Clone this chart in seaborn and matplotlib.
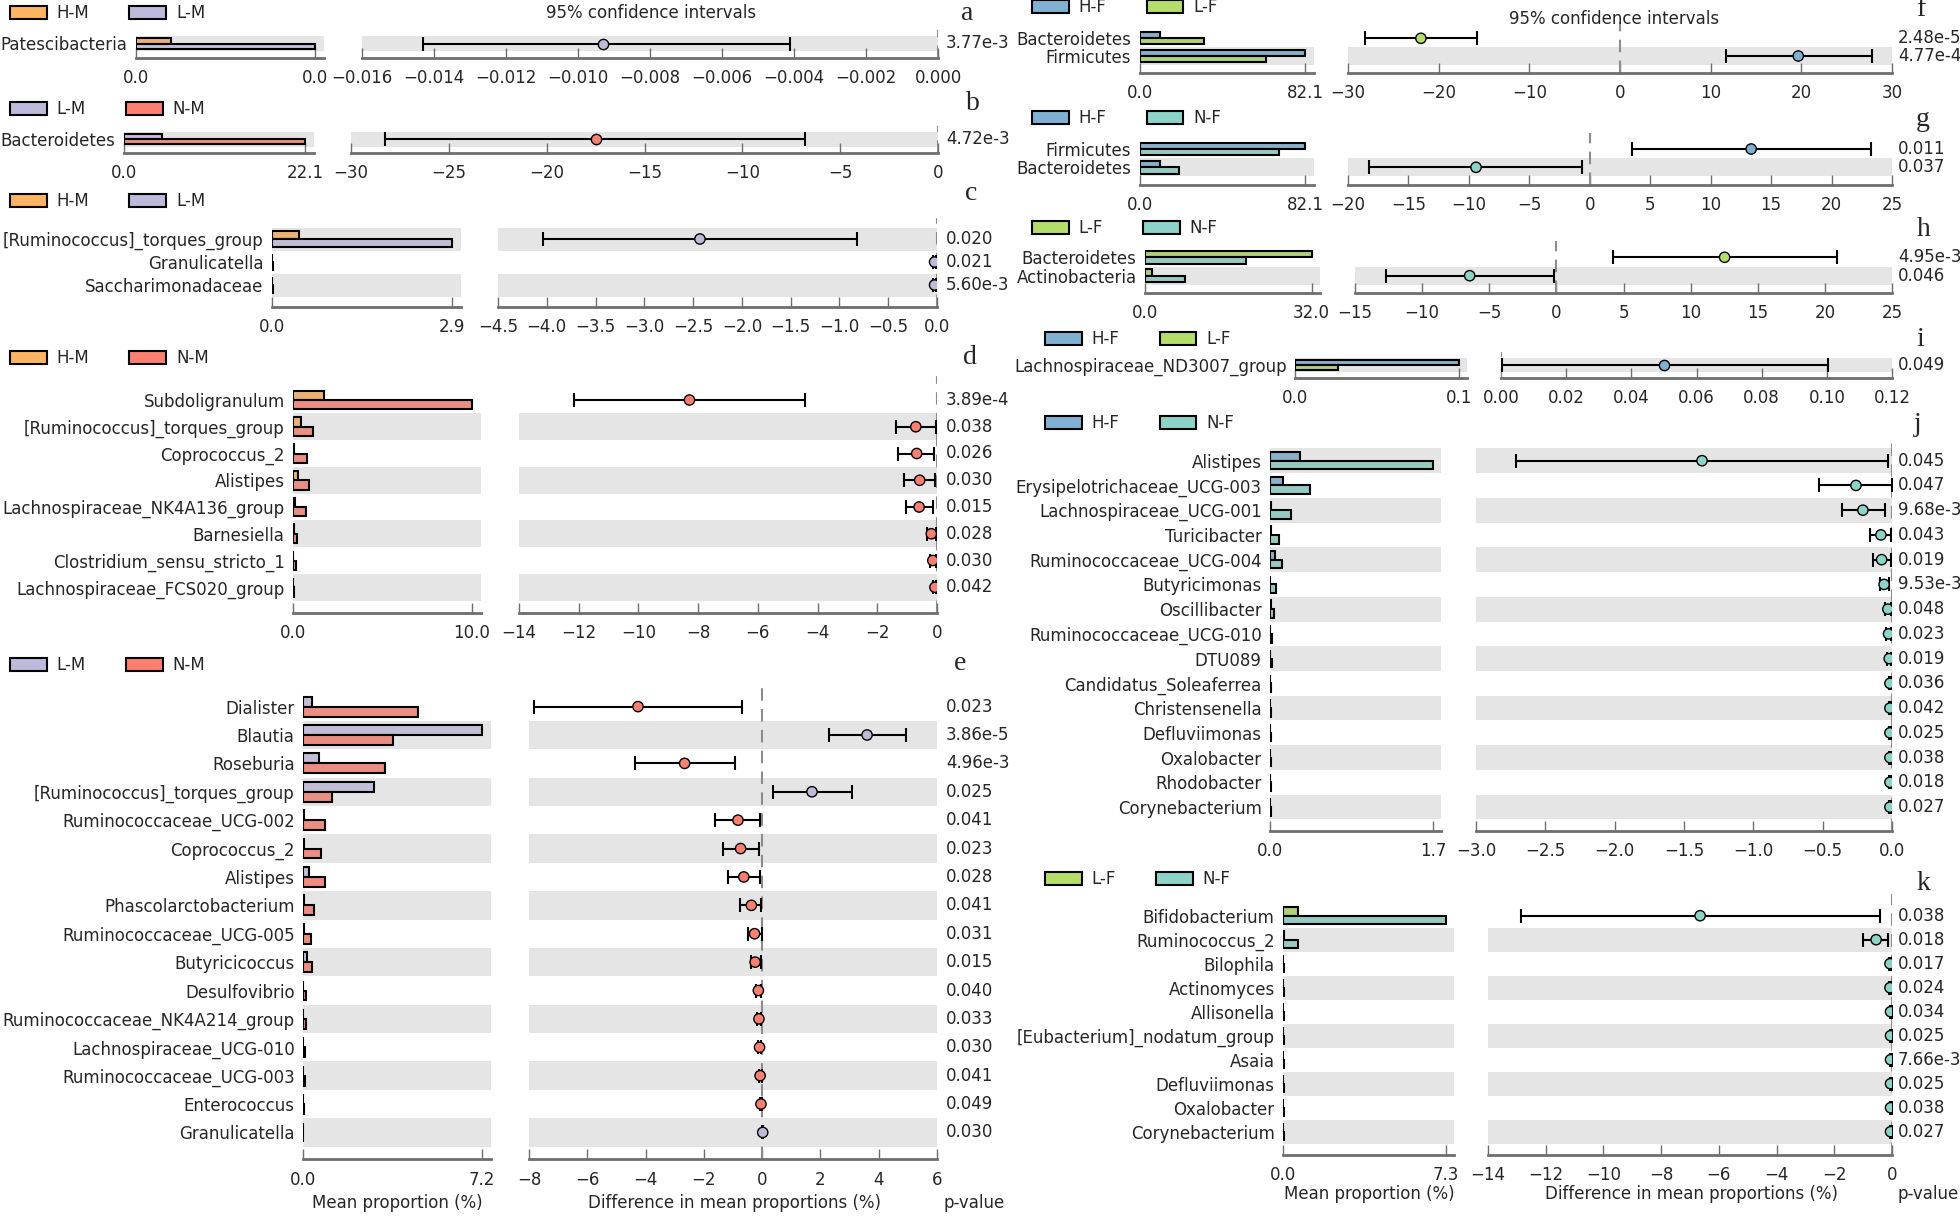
import numpy as np
import pandas as pd
import matplotlib
matplotlib.use('Agg')
import matplotlib.pyplot as plt
import matplotlib.transforms as mtransforms
from matplotlib.patches import Patch
import seaborn as sns

sns.set_theme(style='white')
plt.rcParams['font.family'] = ['DejaVu Sans']

W, H = 1960, 1216
FS = 12

colors = {'H-M': '#FDB462', 'L-M': '#BEBADA', 'N-M': '#FB8072',
          'H-F': '#80B1D3', 'L-F': '#B3DE69', 'N-F': '#8DD3C7'}

# ---- panel a: H-M vs L-M (phylum)
a_groups = ['H-M', 'L-M']
a_features = ['Patescibacteria']
a_mean1 = [0.0023]
a_mean2 = [0.0116]
a_diff = [-0.0093]
a_low = [-0.0143]
a_high = [-0.0041]
a_pvalues = ['3.77e-3']
a_ticks = [-0.016, -0.014, -0.012, -0.010, -0.008, -0.006, -0.004, -0.002, 0.000]

# ---- panel b: L-M vs N-M
b_groups = ['L-M', 'N-M']
b_features = ['Bacteroidetes']
b_mean1 = [4.69]
b_mean2 = [22.1]
b_diff = [-17.5]
b_low = [-28.24]
b_high = [-6.78]
b_pvalues = ['4.72e-3']
b_ticks = [-30, -25, -20, -15, -10, -5, 0]

# ---- panel c: H-M vs L-M (genus)
c_groups = ['H-M', 'L-M']
c_features = ['[Ruminococcus]_torques_group', 'Granulicatella', 'Saccharimonadaceae']
c_mean1 = [0.44, 0.0, 0.0]
c_mean2 = [2.9, 0.02, 0.02]
c_diff = [-2.43, -0.025, -0.025]
c_low = [-4.04, -0.04, -0.045]
c_high = [-0.82, -0.008, -0.006]
c_pvalues = ['0.020', '0.021', '5.60e-3']
c_ticks = [-4.5, -4.0, -3.5, -3.0, -2.5, -2.0, -1.5, -1.0, -0.5, 0.0]

# ---- panel d: H-M vs N-M
d_groups = ['H-M', 'N-M']
d_features = ['Subdoligranulum', '[Ruminococcus]_torques_group', 'Coprococcus_2', 'Alistipes',
              'Lachnospiraceae_NK4A136_group', 'Barnesiella', 'Clostridium_sensu_stricto_1',
              'Lachnospiraceae_FCS020_group']
d_mean1 = [1.74, 0.43, 0.08, 0.30, 0.10, 0.03, 0.02, 0.0]
d_mean2 = [10.0, 1.14, 0.76, 0.88, 0.72, 0.25, 0.18, 0.07]
d_diff = [-8.29, -0.71, -0.68, -0.58, -0.60, -0.19, -0.14, -0.07]
d_low = [-12.16, -1.37, -1.30, -1.09, -1.03, -0.34, -0.25, -0.12]
d_high = [-4.41, -0.04, -0.10, -0.06, -0.12, -0.03, -0.03, -0.02]
d_pvalues = ['3.89e-4', '0.038', '0.026', '0.030', '0.015', '0.028', '0.030', '0.042']
d_ticks = [-14, -12, -10, -8, -6, -4, -2, 0]

# ---- panel e: L-M vs N-M
e_groups = ['L-M', 'N-M']
e_features = ['Dialister', 'Blautia', 'Roseburia', '[Ruminococcus]_torques_group',
              'Ruminococcaceae_UCG-002', 'Coprococcus_2', 'Alistipes', 'Phascolarctobacterium',
              'Ruminococcaceae_UCG-005', 'Butyricicoccus', 'Desulfovibrio',
              'Ruminococcaceae_NK4A214_group', 'Lachnospiraceae_UCG-010',
              'Ruminococcaceae_UCG-003', 'Enterococcus', 'Granulicatella']
e_mean1 = [0.38, 7.2, 0.64, 2.87, 0.04, 0.03, 0.23, 0.04, 0.03, 0.15, 0.01, 0.02, 0.01, 0.01, 0.0, 0.02]
e_mean2 = [4.61, 3.61, 3.31, 1.15, 0.87, 0.74, 0.87, 0.46, 0.31, 0.38, 0.14, 0.12, 0.09, 0.08, 0.04, 0.0]
e_diff = [-4.26, 3.60, -2.66, 1.71, -0.83, -0.74, -0.63, -0.37, -0.26, -0.24, -0.13, -0.11, -0.09,
          -0.07, -0.04, 0.02]
e_low = [-7.82, 2.31, -4.37, 0.36, -1.61, -1.35, -1.18, -0.77, -0.50, -0.39, -0.21, -0.18, -0.14,
         -0.12, -0.07, 0.005]
e_high = [-0.69, 4.93, -0.93, 3.09, -0.07, -0.11, -0.07, -0.04, -0.02, -0.04, -0.05, -0.03, -0.03,
          -0.02, -0.01, 0.035]
e_pvalues = ['0.023', '3.86e-5', '4.96e-3', '0.025', '0.041', '0.023', '0.028', '0.041', '0.031',
             '0.015', '0.040', '0.033', '0.030', '0.041', '0.049', '0.030']
e_ticks = [-8, -6, -4, -2, 0, 2, 4, 6]

# ---- panel f: H-F vs L-F
f_groups = ['H-F', 'L-F']
f_features = ['Bacteroidetes', 'Firmicutes']
f_mean1 = [10.3, 82.1]
f_mean2 = [31.8, 62.4]
f_diff = [-21.96, 19.66]
f_low = [-28.18, 11.69]
f_high = [-15.74, 27.77]
f_pvalues = ['2.48e-5', '4.77e-4']
f_ticks = [-30, -20, -10, 0, 10, 20, 30]

# ---- panel g: H-F vs N-F
g_groups = ['H-F', 'N-F']
g_features = ['Firmicutes', 'Bacteroidetes']
g_mean1 = [82.1, 10.3]
g_mean2 = [68.8, 19.6]
g_diff = [13.35, -9.41]
g_low = [3.47, -18.23]
g_high = [23.23, -0.64]
g_pvalues = ['0.011', '0.037']
g_ticks = [-20, -15, -10, -5, 0, 5, 10, 15, 20, 25]

# ---- panel h: L-F vs N-F
h_groups = ['L-F', 'N-F']
h_features = ['Bacteroidetes', 'Actinobacteria']
h_mean1 = [32.0, 1.41]
h_mean2 = [19.4, 7.76]
h_diff = [12.53, -6.46]
h_low = [4.22, -12.72]
h_high = [20.93, -0.16]
h_pvalues = ['4.95e-3', '0.046']
h_ticks = [-15, -10, -5, 0, 5, 10, 15, 20, 25]

# ---- panel i: H-F vs L-F (genus)
i_groups = ['H-F', 'L-F']
i_features = ['Lachnospiraceae_ND3007_group']
i_mean1 = [0.068]
i_mean2 = [0.018]
i_diff = [0.050]
i_low = [0.0002]
i_high = [0.1003]
i_pvalues = ['0.049']
i_ticks = [0.00, 0.02, 0.04, 0.06, 0.08, 0.10, 0.12]

# ---- panel j: H-F vs N-F (genus)
j_groups = ['H-F', 'N-F']
j_features = ['Alistipes', 'Erysipelotrichaceae_UCG-003', 'Lachnospiraceae_UCG-001', 'Turicibacter',
              'Ruminococcaceae_UCG-004', 'Butyricimonas', 'Oscillibacter', 'Ruminococcaceae_UCG-010',
              'DTU089', 'Candidatus_Soleaferrea', 'Christensenella', 'Defluviimonas', 'Oxalobacter',
              'Rhodobacter', 'Corynebacterium']
j_mean1 = [0.31, 0.14, 0.01, 0.01, 0.05, 0.005, 0.01, 0.0, 0.0, 0.0, 0.0, 0.0, 0.0, 0.0, 0.0]
j_mean2 = [1.70, 0.42, 0.22, 0.09, 0.13, 0.06, 0.04, 0.02, 0.02, 0.01, 0.01, 0.01, 0.01, 0.01, 0.01]
j_diff = [-1.37, -0.26, -0.21, -0.08, -0.075, -0.057, -0.03, -0.025, -0.02, -0.015, -0.015, -0.015,
          -0.015, -0.015, -0.015]
j_low = [-2.71, -0.53, -0.36, -0.16, -0.14, -0.09, -0.05, -0.04, -0.035, -0.025, -0.025, -0.025,
         -0.025, -0.025, -0.025]
j_high = [-0.03, -0.003, -0.05, -0.01, -0.01, -0.02, -0.01, -0.008, -0.006, -0.004, -0.004, -0.004,
          -0.004, -0.004, -0.004]
j_pvalues = ['0.045', '0.047', '9.68e-3', '0.043', '0.019', '9.53e-3', '0.048', '0.023', '0.019',
             '0.036', '0.042', '0.025', '0.038', '0.018', '0.027']
j_ticks = [-3.0, -2.5, -2.0, -1.5, -1.0, -0.5, 0.0]

# ---- panel k: L-F vs N-F (genus)
k_groups = ['L-F', 'N-F']
k_features = ['Bifidobacterium', 'Ruminococcus_2', 'Bilophila', 'Actinomyces', 'Allisonella',
              '[Eubacterium]_nodatum_group', 'Asaia', 'Defluviimonas', 'Oxalobacter',
              'Corynebacterium']
k_mean1 = [0.66, 0.04, 0.0, 0.0, 0.0, 0.0, 0.0, 0.0, 0.0, 0.0]
k_mean2 = [7.3, 0.66, 0.06, 0.06, 0.04, 0.04, 0.04, 0.04, 0.04, 0.04]
k_diff = [-6.65, -0.55, -0.07, -0.07, -0.05, -0.05, -0.05, -0.05, -0.05, -0.05]
k_low = [-12.87, -1.0, -0.11, -0.11, -0.08, -0.08, -0.08, -0.08, -0.08, -0.08]
k_high = [-0.42, -0.15, -0.02, -0.02, -0.01, -0.01, -0.01, -0.01, -0.01, -0.01]
k_pvalues = ['0.038', '0.018', '0.017', '0.024', '0.034', '0.025', '7.66e-3', '0.025', '0.038',
             '0.027']
k_ticks = [-14, -12, -10, -8, -6, -4, -2, 0]

# layout in pixels of the 1960x1216 canvas
layout = {
    'a': dict(bar=(136, 315), ci=(362, 938), row0=43.5, h=15, leg=(10, 13), let=(967, 14), pv=946, fmt='{:.3f}'),
    'b': dict(bar=(124, 305), ci=(351, 938), row0=139.3, h=14.5, leg=(10, 109), let=(973, 104), pv=946, fmt='{:.0f}'),
    'c': dict(bar=(272, 452), ci=(498, 937), row0=239, h=23, leg=(10, 201), let=(971, 194), pv=946, fmt='{:.1f}'),
    'd': dict(bar=(293, 472), ci=(519, 937), row0=400, h=26.75, leg=(10, 358), let=(970, 357), pv=946, fmt='{:.0f}'),
    'e': dict(bar=(303, 482), ci=(529, 937), row0=706.6, h=28.39, leg=(10, 665), let=(960, 663), pv=946, fmt='{:.0f}'),
    'f': dict(bar=(1139.5, 1305.4), ci=(1348, 1892), row0=38.3, h=17.7, leg=(1032, 7), let=(1921, 10), pv=1898, fmt='{:.0f}'),
    'g': dict(bar=(1139.5, 1305.4), ci=(1348, 1892), row0=149, h=18.3, leg=(1032, 118), let=(1923, 120), pv=1898, fmt='{:.0f}'),
    'h': dict(bar=(1145, 1311.5), ci=(1355, 1892), row0=257.3, h=18.4, leg=(1032, 228), let=(1924, 230), pv=1898, fmt='{:.0f}'),
    'i': dict(bar=(1295, 1459), ci=(1501, 1892), row0=365, h=14, leg=(1045, 339), let=(1920, 340), pv=1898, fmt='{:.2f}'),
    'j': dict(bar=(1270, 1433), ci=(1476, 1892), row0=460.7, h=24.74, leg=(1045, 423), let=(1918, 425), pv=1898, fmt='{:.1f}'),
    'k': dict(bar=(1283, 1446), ci=(1488, 1892), row0=915.7, h=24, leg=(1045, 879), let=(1923, 883), pv=1898, fmt='{:.0f}'),
}

fig = plt.figure(figsize=(W / 100, H / 100), dpi=100)


def fmt_tick(v, fmt):
    s = fmt.format(v)
    if s.startswith('-'):
        s = '\u2212' + s[1:]
    return s


def style_axis(ax):
    for side in ['left', 'right', 'top']:
        ax.spines[side].set_visible(False)
    ax.spines['bottom'].set_color('#6e6e6e')
    ax.spines['bottom'].set_linewidth(2)
    ax.tick_params(axis='x', direction='in', length=7, width=1, color='#6e6e6e',
                   labelsize=FS, pad=8, bottom=True)
    ax.tick_params(axis='y', length=0, labelsize=FS, pad=6)
    ax.set_xlabel('')
    ax.set_ylabel('')


def shade_rows(ax, n):
    for r in range(n):
        if (n - 1 - r) % 2 == 0:
            ax.axhspan(r - 0.5, r + 0.5, color='#e5e5e5', lw=0, zorder=0)


def draw_panel(key, groups, features, mean1, mean2, diff, low, high, pvalues, ticks):
    lay = layout[key]
    n = len(features)
    h = lay['h']
    top = lay['row0'] - 0.9 * h
    bottom = lay['row0'] + (n - 1) * h + 0.95 * h
    bx0, bx1 = lay['bar']
    cx0, cx1 = lay['ci']
    ax_b = fig.add_axes([bx0 / W, 1 - bottom / H, (bx1 - bx0) * 1.05 / W, (bottom - top) / H])
    ax_c = fig.add_axes([cx0 / W, 1 - bottom / H, (cx1 - cx0) / W, (bottom - top) / H])

    # mean proportion bars
    df = pd.DataFrame({
        'feature': list(features) * 2,
        'group': [groups[0]] * n + [groups[1]] * n,
        'mean': list(mean1) + list(mean2),
    })
    shade_rows(ax_b, n)
    sns.barplot(data=df, x='mean', y='feature', hue='group', order=features, hue_order=groups,
                palette=colors, orient='h', width=0.7, edgecolor='black', linewidth=1.5,
                errorbar=None, legend=False, ax=ax_b)
    mx = max(max(mean1), max(mean2))
    ax_b.set_xlim(0, mx * 1.05)
    ax_b.set_xticks([0, mx], ['{:.1f}'.format(0), '{:.1f}'.format(mx)])
    ax_b.set_ylim(n - 1 + 0.95, -0.9)
    style_axis(ax_b)

    # difference with 95% CI
    shade_rows(ax_c, n)
    ax_c.axvline(0, color='#8c8c8c', lw=1.5, ls=(0, (6, 4)), zorder=1)
    rows = np.arange(n)
    diff = np.array(diff)
    ax_c.errorbar(diff, rows, xerr=[diff - np.array(low), np.array(high) - diff], fmt='none',
                  ecolor='black', elinewidth=1.5, capsize=5, capthick=1.5, zorder=2)
    pt = pd.DataFrame({'diff': diff, 'row': rows,
                       'group': [groups[0] if d > 0 else groups[1] for d in diff]})
    sns.scatterplot(data=pt, x='diff', y='row', hue='group', palette=colors, s=55,
                    edgecolor='black', linewidth=1, legend=False, zorder=3, ax=ax_c)
    ax_c.set_xlim(ticks[0], ticks[-1])
    ax_c.set_xticks(ticks, [fmt_tick(t, lay['fmt']) for t in ticks])
    ax_c.set_yticks([])
    ax_c.set_ylim(n - 1 + 0.95, -0.9)
    style_axis(ax_c)

    # p-values
    trans = mtransforms.blended_transform_factory(fig.transFigure, ax_c.transData)
    for r, p in enumerate(pvalues):
        fig.text(lay['pv'] / W, r, p, transform=trans, ha='left', va='center', fontsize=FS)

    # legend and panel letter
    handles = [Patch(facecolor=colors[g], edgecolor='black', linewidth=1.5, label=g) for g in groups]
    lx, ly = lay['leg']
    fig.legend(handles=handles, loc='center left', bbox_to_anchor=(lx / W, 1 - ly / H), ncol=2,
               frameon=False, fontsize=FS, handlelength=2.2, handleheight=0.8, columnspacing=2.4,
               handletextpad=0.6, borderaxespad=0, borderpad=0)
    tx, ty = lay['let']
    fig.text(tx / W, 1 - ty / H, key, ha='center', va='center', fontsize=20,
             family=['Liberation Serif', 'DejaVu Serif'])


draw_panel('a', a_groups, a_features, a_mean1, a_mean2, a_diff, a_low, a_high, a_pvalues, a_ticks)
draw_panel('b', b_groups, b_features, b_mean1, b_mean2, b_diff, b_low, b_high, b_pvalues, b_ticks)
draw_panel('c', c_groups, c_features, c_mean1, c_mean2, c_diff, c_low, c_high, c_pvalues, c_ticks)
draw_panel('d', d_groups, d_features, d_mean1, d_mean2, d_diff, d_low, d_high, d_pvalues, d_ticks)
draw_panel('e', e_groups, e_features, e_mean1, e_mean2, e_diff, e_low, e_high, e_pvalues, e_ticks)
draw_panel('f', f_groups, f_features, f_mean1, f_mean2, f_diff, f_low, f_high, f_pvalues, f_ticks)
draw_panel('g', g_groups, g_features, g_mean1, g_mean2, g_diff, g_low, g_high, g_pvalues, g_ticks)
draw_panel('h', h_groups, h_features, h_mean1, h_mean2, h_diff, h_low, h_high, h_pvalues, h_ticks)
draw_panel('i', i_groups, i_features, i_mean1, i_mean2, i_diff, i_low, i_high, i_pvalues, i_ticks)
draw_panel('j', j_groups, j_features, j_mean1, j_mean2, j_diff, j_low, j_high, j_pvalues, j_ticks)
draw_panel('k', k_groups, k_features, k_mean1, k_mean2, k_diff, k_low, k_high, k_pvalues, k_ticks)

# shared titles and axis captions
fig.text(651 / W, 1 - 13 / H, '95% confidence intervals', ha='center', va='center', fontsize=FS)
fig.text(1614 / W, 1 - 19 / H, '95% confidence intervals', ha='center', va='center', fontsize=FS)
fig.text(397 / W, 1 - 1203 / H, 'Mean proportion (%)', ha='center', va='center', fontsize=FS)
fig.text(734 / W, 1 - 1203 / H, 'Difference in mean proportions (%)', ha='center', va='center', fontsize=FS)
fig.text(943 / W, 1 - 1203 / H, 'p-value', ha='left', va='center', fontsize=FS)
fig.text(1369 / W, 1 - 1194 / H, 'Mean proportion (%)', ha='center', va='center', fontsize=FS)
fig.text(1691 / W, 1 - 1194 / H, 'Difference in mean proportions (%)', ha='center', va='center', fontsize=FS)
fig.text(1897 / W, 1 - 1194 / H, 'p-value', ha='left', va='center', fontsize=FS)

fig.savefig('out.png', dpi=100)
